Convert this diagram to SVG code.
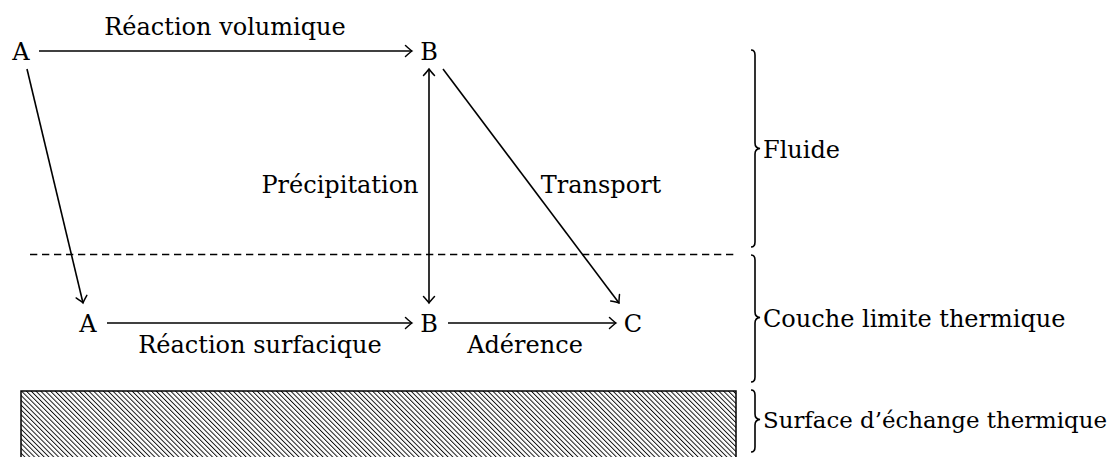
<svg xmlns="http://www.w3.org/2000/svg" width="1118" height="457" viewBox="0 0 1118 457">
<style>
text{font-family:"DejaVu Serif","Liberation Serif",serif;font-size:24px;fill:#000}
.m{text-anchor:middle}
.ln{stroke:#000;stroke-width:1.6;fill:none}
.br{stroke:#000;stroke-width:1.6;fill:none}
</style>
<defs>
<marker id="to" viewBox="-8 -7 10 14" refX="0" refY="0" markerWidth="10" markerHeight="14" markerUnits="userSpaceOnUse" orient="auto-start-reverse">
<path d="M-6.5,-5.5 Q-1.8,-1.2 0,0 Q-1.8,1.2 -6.5,5.5" fill="none" stroke="#000" stroke-width="1.5" stroke-linecap="round"/>
</marker>
<pattern id="hatch" patternUnits="userSpaceOnUse" width="3.4" height="10" patternTransform="rotate(-45)">
<line x1="0.5" y1="0" x2="0.5" y2="10" stroke="#000" stroke-width="0.9"/>
</pattern>
</defs>
<rect id="wall" x="21" y="391" width="715" height="70" fill="url(#hatch)" stroke="#000" stroke-width="1.5"/>
<line id="boundary" x1="30" y1="254.5" x2="737" y2="254.5" stroke="#000" stroke-width="1.5" stroke-dasharray="7.3 4.7"/>
<g id="connectors">
<line class="ln" x1="39" y1="51" x2="412" y2="51" marker-end="url(#to)"/>
<line class="ln" x1="27" y1="69" x2="83" y2="303" marker-end="url(#to)"/>
<line class="ln" x1="429" y1="69" x2="429" y2="303" marker-start="url(#to)" marker-end="url(#to)"/>
<line class="ln" x1="443" y1="69" x2="619" y2="303" marker-end="url(#to)"/>
<line class="ln" x1="107" y1="323" x2="412" y2="323" marker-end="url(#to)"/>
<line class="ln" x1="448" y1="323" x2="616" y2="323" marker-end="url(#to)"/>
<text class="m" x="225" y="35">Réaction volumique</text>
<text class="m" x="340" y="193">Précipitation</text>
<text class="m" x="601" y="193">Transport</text>
<text class="m" x="260" y="353">Réaction surfacique</text>
<text class="m" x="525" y="353">Adérence</text>
</g>
<g id="A1"><text class="m" x="21" y="60">A</text></g>
<g id="B1"><text class="m" x="429" y="60">B</text></g>
<g id="A2"><text class="m" x="88" y="331.5">A</text></g>
<g id="B2"><text class="m" x="429" y="331.5">B</text></g>
<g id="C"><text class="m" x="633" y="331.5">C</text></g>
<g id="fluide">
<path class="br" d="M751,50 Q755,50 755,55 L755,143 Q755,148 760,148.5 Q755,149 755,154 L755,242 Q755,247 751,247"/>
<text x="763" y="158">Fluide</text>
</g>
<g id="couche">
<path class="br" d="M751,255 Q755,255 755,260 L755,312 Q755,317 760,317.5 Q755,318 755,323 L755,377 Q755,382 751,382"/>
<text x="763" y="327">Couche limite thermique</text>
</g>
<g id="surface">
<path class="br" d="M751,390 Q755,390 755,395 L755,414 Q755,419 760,419.5 Q755,420 755,425 L755,447 Q755,452 751,452"/>
<text x="763" y="428" style="font-size:22.5px" textLength="344" lengthAdjust="spacingAndGlyphs">Surface d’échange thermique</text>
</g>
</svg>
